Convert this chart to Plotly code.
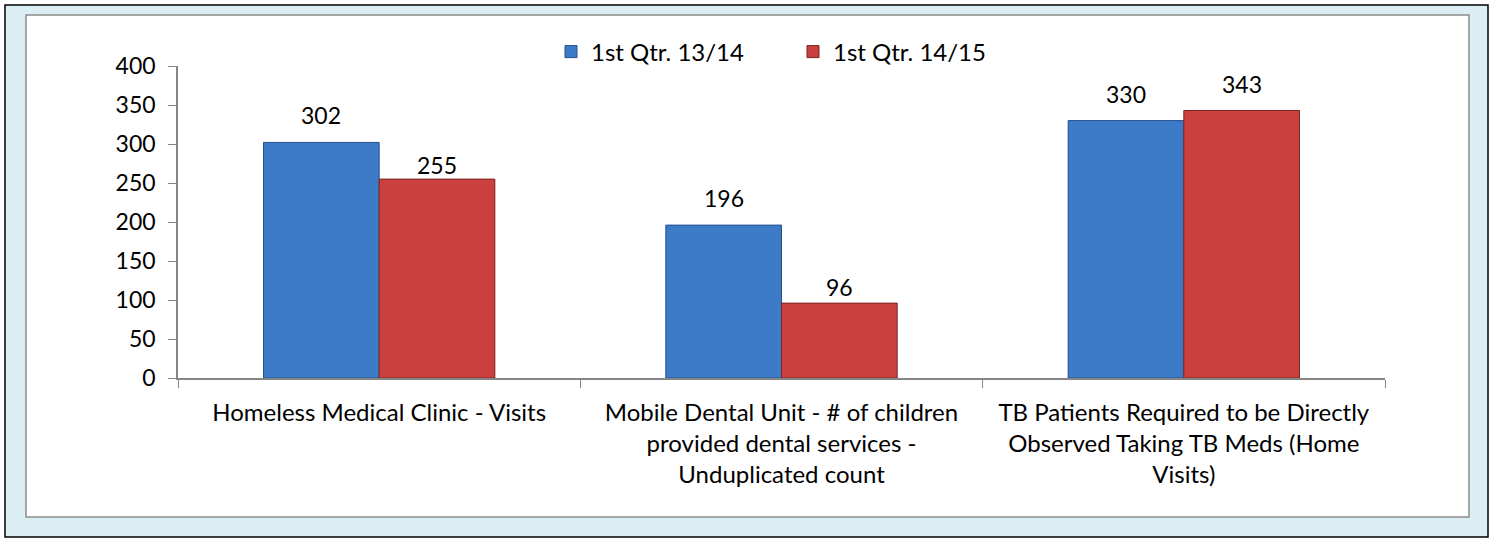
import plotly.graph_objects as go

categories = [
    "Homeless Medical Clinic - Visits",
    "Mobile Dental Unit - # of children<br>provided dental services -<br>Unduplicated count",
    "TB Patients Required to be Directly<br>Observed Taking TB Meds (Home<br>Visits)",
]
series_names = ["1st Qtr. 13/14", "1st Qtr. 14/15"]
values_1314 = [302, 196, 330]
values_1415 = [255, 96, 343]
y_ticks = [0, 50, 100, 150, 200, 250, 300, 350, 400]

# label placement (style, pixels above bar top)
label_shift_1314 = [27, 27, 27]
label_shift_1415 = [14, 16, 26]

FONT = "Lato, 'Open Sans', sans-serif"
W, H = 1495, 538
L, R, T, B = 178, 110, 66, 160
pw, ph = W - L - R, H - T - B
BARGAP = 0.425
half_bar_px = pw / len(categories) * (1 - BARGAP) / 4

fig = go.Figure()
fig.add_trace(go.Bar(
    name=series_names[0], x=categories, y=values_1314,
    marker=dict(color="#3D7BC9", line=dict(color="#22508C", width=1)),
))
fig.add_trace(go.Bar(
    name=series_names[1], x=categories, y=values_1415,
    marker=dict(color="#CB403E", line=dict(color="#7A2422", width=1)),
))

annotations = []
for vals, shifts, sign in ((values_1314, label_shift_1314, -1), (values_1415, label_shift_1415, 1)):
    for c, v, s in zip(categories, vals, shifts):
        annotations.append(dict(
            x=c, y=v, xref="x", yref="y", text=str(v), showarrow=False,
            xshift=sign * half_bar_px, yshift=s, yanchor="middle",
            font=dict(size=23, color="#000000", family=FONT),
        ))


def px(x):
    return (x - L) / pw


def py(y):
    return (H - B - y) / ph


shapes = [
    dict(type="rect", xref="paper", yref="paper", layer="below",
         x0=px(5), x1=px(1488), y0=py(537), y1=py(5),
         fillcolor="#DAEEF3", line=dict(color="#000000", width=1.5)),
    dict(type="rect", xref="paper", yref="paper", layer="below",
         x0=px(26), x1=px(1469), y0=py(517), y1=py(15),
         fillcolor="#FFFFFF", line=dict(color="#8C8C8C", width=1.5)),
]

fig.update_layout(
    width=W, height=H,
    margin=dict(l=L, r=R, t=T, b=B),
    paper_bgcolor="#FFFFFF", plot_bgcolor="rgba(0,0,0,0)",
    barmode="group", bargap=BARGAP, bargroupgap=0,
    font=dict(family=FONT, size=24, color="#000000"),
    shapes=shapes,
    annotations=annotations,
    showlegend=True,
    legend=dict(orientation="h", x=px(551), xanchor="left", y=py(52), yanchor="middle",
                font=dict(size=24), bgcolor="rgba(0,0,0,0)", itemwidth=30,
                entrywidth=197, entrywidthmode="pixels",
                traceorder="normal"),
    xaxis=dict(
        showline=True, linecolor="#868686", linewidth=1.5,
        ticks="outside", tickson="boundaries", ticklen=8, tickcolor="#868686",
        tickfont=dict(size=24), showgrid=False, ticklabelstandoff=12,
    ),
    yaxis=dict(
        range=[0, 400], tickvals=y_ticks, showline=True, linecolor="#868686",
        linewidth=1.5, ticks="outside", ticklen=8, tickcolor="#868686",
        tickfont=dict(size=23), showgrid=False, zeroline=False, ticklabelstandoff=8,
    ),
)

fig.write_html(
    "out.html",
    config={"displayModeBar": False},
    post_script="document.body.style.margin='0';document.body.style.overflow='hidden';",
)
